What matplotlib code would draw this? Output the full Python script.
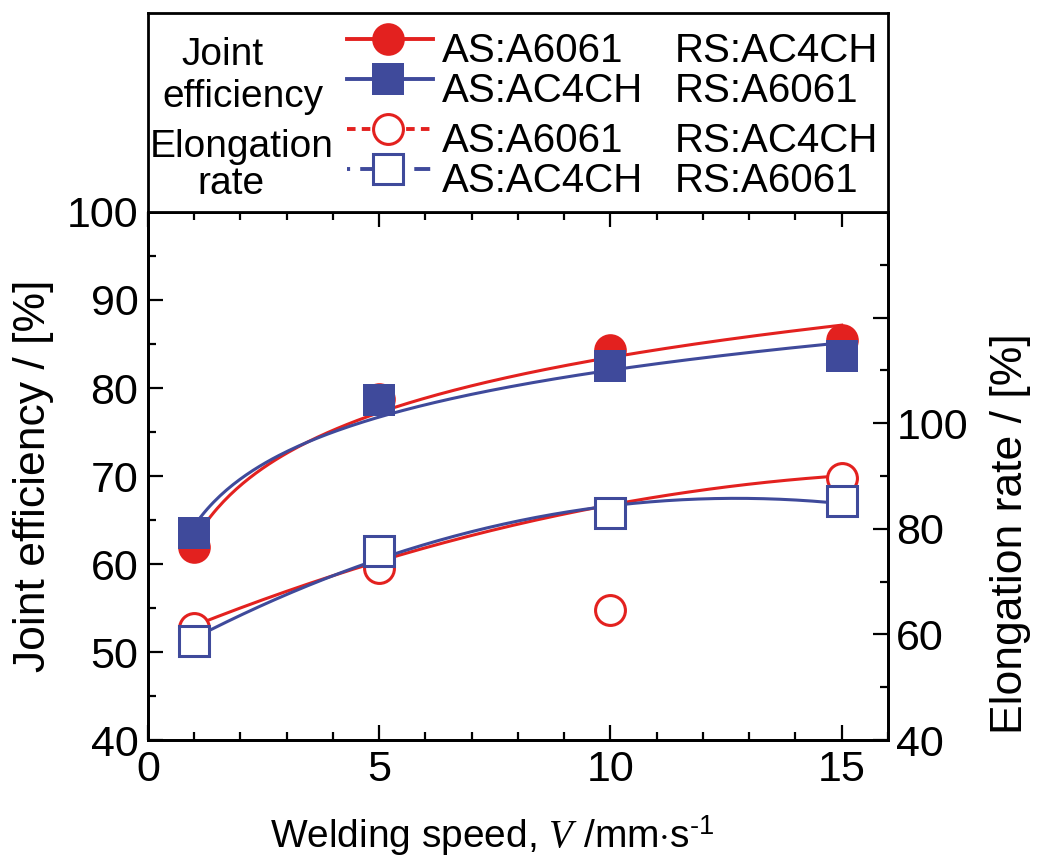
import numpy as np
import matplotlib
matplotlib.use("Agg")
import matplotlib.pyplot as plt
from matplotlib.ticker import MultipleLocator

plt.rcParams['font.family'] = ['Liberation Sans', 'DejaVu Sans']
plt.rcParams['mathtext.fontset'] = 'custom'
plt.rcParams['mathtext.rm'] = 'Liberation Sans'
plt.rcParams['mathtext.it'] = 'Liberation Serif:italic'

# welding speed, mm/s
speed = np.array([1, 5, 10, 15])

# joint efficiency, % (left axis)
je_a6061 = np.array([61.9, 78.8, 84.3, 85.5])   # AS:A6061 RS:AC4CH
je_ac4ch = np.array([63.5, 78.6, 82.5, 83.6])   # AS:AC4CH RS:A6061

# elongation rate, % (right axis)
el_a6061 = np.array([61.3, 72.5, 64.7, 89.7])
el_ac4ch = np.array([58.7, 75.8, 83.0, 85.2])
# trend line of the AS:A6061 elongation as drawn (x=10 point left out of the fit)
el_a6061_trend = np.array([62.0, 73.0, 85.3, 89.8])

red = '#e3211f'
blue = '#3f4a9b'

fig = plt.figure(figsize=(10.37, 8.6), dpi=100)
ax = fig.add_axes([0.1427, 0.1395, 0.7136, 0.614])
ax2 = ax.twinx()

xs = np.linspace(1, 15, 200)

# joint efficiency: log fits
for y, c in [(je_a6061, red), (je_ac4ch, blue)]:
    k = np.polyfit(np.log(speed), y, 1)
    ax.plot(xs, np.polyval(k, np.log(xs)), color=c, lw=2.2, zorder=2)
for y, c, m in [(je_a6061, red, 'o'), (je_ac4ch, blue, 's')]:
    ax.plot(speed, y, ls='none', marker=m, ms=23.5, mfc=c, mec=c, mew=0, zorder=3)

# elongation: quadratic fits
k_r = np.polyfit(speed, el_a6061_trend, 2)
k_b = np.polyfit(speed, el_ac4ch, 2)
ax2.plot(xs, np.polyval(k_r, xs), color=red, lw=2.2, zorder=2)
ax2.plot(xs, np.polyval(k_b, xs), color=blue, lw=2.2, zorder=2)
ax2.plot(speed, el_a6061, ls='none', marker='o', ms=21.5, mfc='white', mec=red, mew=2.2, zorder=3)
ax2.plot(speed, el_ac4ch, ls='none', marker='s', ms=21.5, mfc='white', mec=blue, mew=2.2, zorder=4)

ax.set_xlim(0, 16)
ax.set_ylim(40, 100)
ax2.set_ylim(40, 140)

ax.xaxis.set_major_locator(MultipleLocator(5))
ax.xaxis.set_minor_locator(MultipleLocator(1))
ax.yaxis.set_major_locator(MultipleLocator(10))
ax.yaxis.set_minor_locator(MultipleLocator(5))
ax2.set_yticks([40, 60, 80, 100, 120, 140])
ax2.set_yticklabels(['40', '60', '80', '100', '', ''])
ax2.yaxis.set_minor_locator(MultipleLocator(10))

ax.tick_params(which='both', direction='in', top=True, right=False, width=1.6,
               labelsize=31, pad=7)
ax.tick_params(which='major', length=11)
ax.tick_params(which='minor', length=5.5)
ax2.tick_params(which='both', direction='in', width=1.6, labelsize=31, pad=6)
ax2.tick_params(which='major', length=11)
ax2.tick_params(which='minor', length=5.5)
for a in (ax, ax2):
    for s in a.spines.values():
        s.set_linewidth(2)

ax.set_ylabel('Joint efficiency / [%]', fontsize=32, labelpad=9)
ax2.set_ylabel('Elongation rate / [%]', fontsize=32)
ax2.yaxis.set_label_coords(1.138, 0.39)
fig.text(0.2604, 0.014, r'Welding speed, $\mathit{V}$ /mm$\cdot$s$^{\text{-1}}$',
         fontsize=28, ha='left', va='baseline')

# legend box above the plot
lax = fig.add_axes([0.1427, 0.7535, 0.7136, 0.2314])
lax.set_xticks([])
lax.set_yticks([])
lax.set_xlim(0, 1)
lax.set_ylim(0, 1)
for s in lax.spines.values():
    s.set_linewidth(2)

rows = [
    (0.754, red, '-', 'o', red, 'AS:A6061', 'RS:AC4CH'),
    (0.553, blue, '-', 's', blue, 'AS:AC4CH', 'RS:A6061'),
    (0.302, red, (0, (2.2, 1.6)), 'o', 'white', 'AS:A6061', 'RS:AC4CH'),
    (0.101, blue, (0, (0.8, 2.6, 9, 4.9, 4.1, 2)), 's', 'white', 'AS:AC4CH', 'RS:A6061'),
]
for yb, c, ls, m, fc, t1, t2 in rows:
    ym = yb + 0.115
    lax.plot([0.269, 0.385], [ym, ym], color=c, ls=ls, lw=2.8)
    lax.plot([0.324], [ym], marker=m, ms=23.5 if fc != 'white' else 21.5,
             mfc=fc, mec=c, mew=0 if fc != 'white' else 2.2)
    lax.text(0.397, yb, t1, fontsize=29, va='baseline', ha='left')
    lax.text(0.712, yb, t2, fontsize=29, va='baseline', ha='left')

lax.text(0.101, 0.739, 'Joint', fontsize=28, ha='center', va='baseline')
lax.text(0.128, 0.528, 'efficiency', fontsize=28, ha='center', va='baseline')
lax.text(0.127, 0.276, 'Elongation', fontsize=28, ha='center', va='baseline')
lax.text(0.112, 0.090, 'rate', fontsize=28, ha='center', va='baseline')

fig.savefig('out.png', dpi=100)
